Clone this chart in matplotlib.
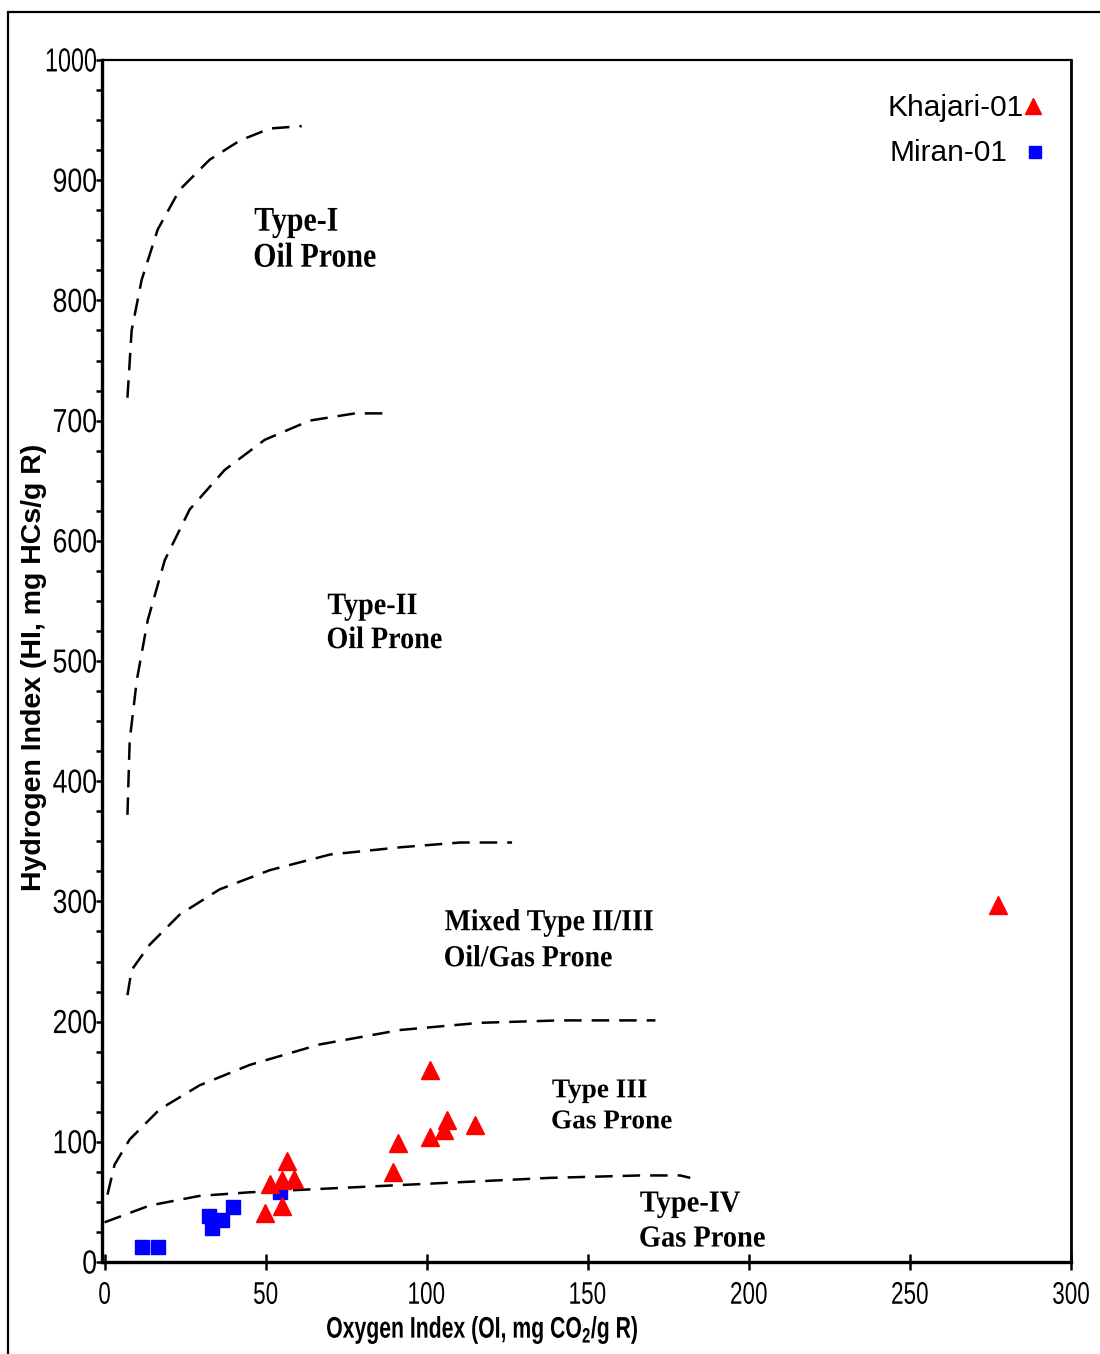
import matplotlib
matplotlib.use("Agg")
import matplotlib.pyplot as plt
from matplotlib.patches import Rectangle, PathPatch
from matplotlib.textpath import TextPath
from matplotlib.font_manager import FontProperties
from matplotlib.transforms import Affine2D
from matplotlib.ticker import MultipleLocator

plt.rcParams['mathtext.fontset'] = 'custom'
plt.rcParams['mathtext.rm'] = 'Liberation Sans'
plt.rcParams['mathtext.bf'] = 'Liberation Sans:bold'

# Rock-Eval samples (OI, HI)
khajari_oi = [101, 106.4, 105.5, 101, 115, 91, 89.4, 56.7, 51.5, 55.1, 58.8, 55.1, 49.7, 277.3]
khajari_hi = [160, 118, 110, 104, 114, 99, 75, 84, 65, 68, 69, 47, 40.5, 297]

miran_oi = [11.6, 16.6, 32.3, 33.5, 36.5, 39.9, 54.5]
miran_hi = [12.7, 12.7, 38.5, 28, 35, 46, 58.5]

# kerogen type boundaries
type1_oi = [7.1, 8.4, 11.5, 16.5, 23.3, 32.6, 42, 51.3, 61.2]
type1_hi = [719, 775, 817, 859, 892, 917, 933, 943, 945]

type2_oi = [7.1, 7.8, 10, 13.4, 18.7, 26.4, 37.3, 49.7, 63.7, 77.7, 88.6]
type2_hi = [372, 434, 484, 534, 584, 626, 659, 684, 700, 706, 706]

mixed_oi = [7.1, 8.4, 14, 23.3, 35.7, 51.3, 70, 91.7, 110.4, 126.5]
mixed_hi = [222, 243, 264, 289, 310, 326, 339, 345, 349, 349]

type3_oi = [0.9, 3.1, 7.8, 17.1, 29.5, 45.1, 66.8, 91.7, 116.6, 141.4, 171]
type3_hi = [56, 81, 102, 127, 147, 164, 181, 193, 199, 201, 201]

type4_oi = [0, 14, 29.5, 45.1, 76.2, 107.2, 138.3, 166.3, 178.7, 181.8]
type4_hi = [33, 47, 55, 58, 62, 66, 70, 72, 72, 70]

zone_line1 = ['Type-I', 'Type-II', 'Mixed Type II/III', 'Type III', 'Type-IV']
zone_line2 = ['Oil Prone', 'Oil Prone', 'Oil/Gas Prone', 'Gas Prone', 'Gas Prone']
zone_oi = [46.6, 69.3, 105.7, 139, 166.3]
zone_hi = [858, 539, 276, 137, 42]

x_ticks = [0, 50, 100, 150, 200, 250, 300]
y_ticks = [0, 100, 200, 300, 400, 500, 600, 700, 800, 900, 1000]

W, H = 1100, 1354
fig = plt.figure(figsize=(W / 100, H / 100), dpi=100)
ax = fig.add_axes([102 / W, 1 - 1262 / H, 969 / W, 1202 / H])
px = fig.dpi / 72


def squeezed_text(x, y, s, size, squeeze, ha='left', va='baseline',
                  weight='normal', family='Liberation Sans'):
    """Draw text at display pixel (x, y), narrowed horizontally by `squeeze`."""
    path = TextPath((0, 0), s, prop=FontProperties(family=family, weight=weight, size=size))
    ext = path.get_extents()
    ox = {'left': ext.x0, 'center': (ext.x0 + ext.x1) / 2, 'right': ext.x1}[ha]
    oy = {'baseline': 0, 'center': (ext.y0 + ext.y1) / 2}[va]
    tr = Affine2D().translate(-ox, -oy).scale(squeeze * px, px).translate(x, y)
    fig.add_artist(PathPatch(path, transform=tr, facecolor='black', edgecolor='none'))


# outer frame, cut off at right and bottom edges
fig.patches.append(Rectangle((8 / W, -0.2), 1.2, 1 - 12 / H + 0.2,
                             transform=fig.transFigure, fill=False,
                             edgecolor='black', linewidth=1.6))

for xs, ys in [(type1_oi, type1_hi), (type2_oi, type2_hi), (mixed_oi, mixed_hi),
               (type3_oi, type3_hi), (type4_oi, type4_hi)]:
    ax.plot(xs, ys, color='black', linewidth=1.8, linestyle=(0, (7, 4)), zorder=2)

ax.plot(miran_oi, miran_hi, linestyle='none', marker='s', markersize=9.5,
        color='#0000ff', zorder=3)
ax.plot(khajari_oi, khajari_hi, linestyle='none', marker='^', markersize=13.5,
        color='#ff0000', zorder=4)

ax.set_xlim(-0.8, 300)
ax.set_ylim(0, 1000)
ax.xaxis.set_major_locator(MultipleLocator(50))
ax.yaxis.set_major_locator(MultipleLocator(100))
ax.yaxis.set_minor_locator(MultipleLocator(25))
ax.tick_params(axis='x', direction='inout', length=11, width=1.8, labelbottom=False)
ax.tick_params(axis='y', which='both', direction='out', length=4, width=1.8, labelleft=False)
for side, lw in [('left', 2.4), ('bottom', 2.4), ('top', 1.6), ('right', 2.0)]:
    ax.spines[side].set_linewidth(lw)

# tick labels in a condensed face
for v in x_ticks:
    xp, _ = ax.transData.transform((v, 0))
    squeezed_text(xp, H - 1293, str(v), 22.5, 0.72, ha='center', va='center')
for v in y_ticks:
    _, yp = ax.transData.transform((0, v))
    squeezed_text(96, yp, str(v), 24, 0.7 if v >= 1000 else 0.8, ha='right', va='center')

# zone names
zone_fmt = [(25, 0.86, 36), (22.5, 0.9, 34), (22, 0.91, 36), (19.6, 1.0, 31), (22, 0.93, 35)]
for l1, l2, x, y, (size, sq, gap) in zip(zone_line1, zone_line2, zone_oi, zone_hi, zone_fmt):
    xp, yp = ax.transData.transform((x, y))
    squeezed_text(xp, yp, l1, size, sq, weight='bold', family='Liberation Serif')
    squeezed_text(xp, yp - gap, l2, size, sq, weight='bold', family='Liberation Serif')

# legend
leg_font = dict(fontsize=21.5, family='Liberation Sans', va='center', ha='left', transform=ax.transAxes)
ax.text(0.8111, 0.9601, 'Khajari-01', **leg_font)
ax.text(0.8132, 0.9226, 'Miran-01', **leg_font)
ax.plot([0.9608], [0.9615], marker='^', markersize=11, color='#ff0000',
        transform=ax.transAxes, clip_on=False)
ax.plot([0.9628], [0.9235], marker='s', markersize=8, color='#0000ff',
        transform=ax.transAxes, clip_on=False)

fig.text(34 / W, 1 - 667 / H, 'Hydrogen Index (HI, mg HCs/g R)', rotation=90,
         ha='center', va='center', fontsize=20.5, fontweight='bold', family='Liberation Sans')
squeezed_text(482, H - 1330, r'Oxygen Index (OI, mg CO$_\mathbf{2}$/g R)', 21.5, 0.71,
              ha='center', va='center', weight='bold')

fig.savefig('out.png', dpi=100)
